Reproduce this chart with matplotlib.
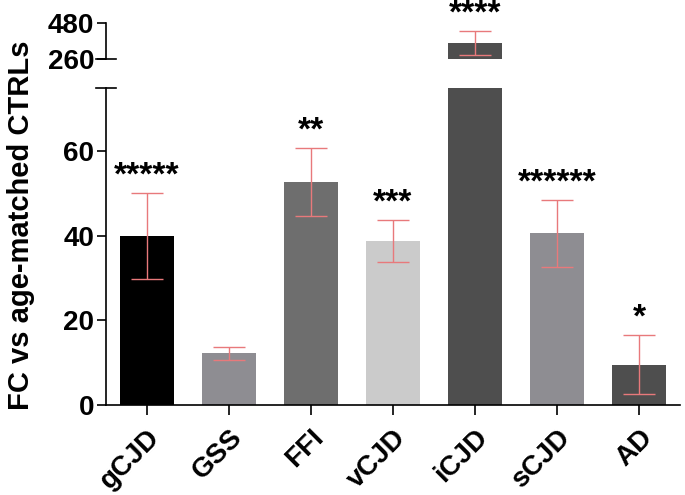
import numpy as np
import matplotlib
matplotlib.use('Agg')
import matplotlib.pyplot as plt

plt.rcParams['font.family'] = ['Liberation Sans', 'DejaVu Sans']
plt.rcParams['font.weight'] = 'bold'

# data
groups = ['gCJD', 'GSS', 'FFI', 'vCJD', 'iCJD', 'sCJD', 'AD']
means = [39.9, 12.2, 52.8, 38.8, 357, 40.6, 9.5]
errs = [10.2, 1.6, 8.0, 5.0, 74, 8.0, 7.0]
stars = ['*****', '', '**', '***', '****', '******', '*']
colors = ['#000000', '#8e8d92', '#6e6e6e', '#cbcbcb', '#4e4e4e', '#8e8d92', '#4e4e4e']

err_col = '#e8797b'
x = np.arange(len(groups))

fig = plt.figure(figsize=(6.85, 4.95), dpi=100)
left, right = 0.1547, 0.9927
ax = fig.add_axes([left, 0.1818, right - left, 0.6404])
ax_top = fig.add_axes([left, 0.8808, right - left, 0.0727])

for a in (ax, ax_top):
    a.bar(x, means, width=0.66, color=colors, zorder=2)
    a.errorbar(x, means, yerr=errs, fmt='none', ecolor=err_col,
               elinewidth=1.0, capsize=11.5, capthick=1.0, zorder=3)
    a.set_xlim(-0.5, 6.5)
    a.spines['top'].set_visible(False)
    a.spines['right'].set_visible(False)
    for s in a.spines.values():
        s.set_linewidth(1.2)
    a.tick_params(axis='y', length=6.5, width=1.2, labelsize=20, pad=2)

ax.set_ylim(0, 75)
ax.set_yticks([0, 20, 40, 60])
ax.set_xticks(x)
ax.set_xticklabels(groups, rotation=45, ha='right', rotation_mode='anchor',
                   fontsize=20, fontweight='bold')
ax.tick_params(axis='x', length=7, width=1.2, pad=7)

ax_top.set_ylim(260, 480)
ax_top.set_yticks([260, 480])
ax_top.spines['bottom'].set_visible(False)
ax_top.set_xticks([])

# break marks
ax.plot([-0.017, 0.017], [1, 1], transform=ax.transAxes, color='black',
        lw=1.2, clip_on=False)
ax_top.plot([-0.017, 0.017], [0, 0], transform=ax_top.transAxes, color='black',
            lw=1.2, clip_on=False)

# significance stars
for i in range(len(groups)):
    if not stars[i]:
        continue
    a = ax_top if means[i] > 75 else ax
    a.annotate(stars[i], xy=(x[i], means[i] + errs[i]), xytext=(0, 6),
               textcoords='offset points', ha='center', va='baseline',
               fontsize=24, fontweight='bold', annotation_clip=False)

fig.text(0.03, 0.545, 'FC vs age-matched CTRLs', rotation=90, ha='center',
         va='center', fontsize=21, fontweight='bold')

fig.savefig('out.png', dpi=100)
